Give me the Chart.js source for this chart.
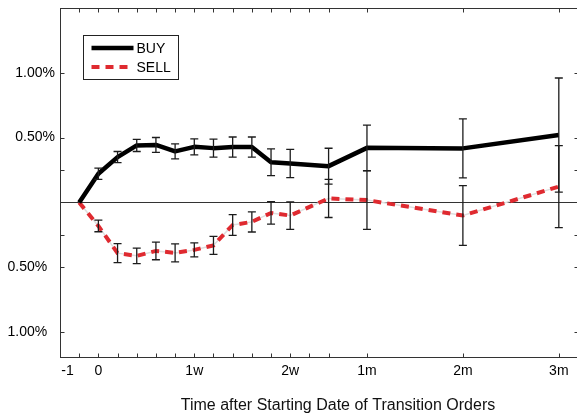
<!DOCTYPE html>
<html>
<head>
<meta charset="utf-8">
<script src="https://cdn.jsdelivr.net/npm/chart.js@4.4.1/dist/chart.umd.min.js"></script>
<style>
  html, body { margin: 0; padding: 0; background: #fff; overflow: hidden; width: 577px; height: 417px; }
  #wrap { position: relative; width: 579px; height: 417px; }
</style>
</head>
<body>
<div id="wrap"><canvas id="c"></canvas></div>
<script>
// Trading-day offsets from the start of the transition (1w = 5, 2w = 10, then 3w, 1m, 2m, 3m)
const steps = [-1, 0, 1, 2, 3, 4, 5, 6, 7, 8, 9, 10, 12, 14, 19, 24];

// Mean cumulative return (%) and error half-widths (%)
const buyMean  = [0, 0.221, 0.350, 0.440, 0.444, 0.394, 0.429, 0.419, 0.427, 0.427, 0.310, 0.300, 0.280, 0.421, 0.417, 0.520];
const buyErr   = [0, 0.043, 0.043, 0.047, 0.057, 0.058, 0.062, 0.070, 0.078, 0.078, 0.103, 0.109, 0.138, 0.176, 0.228, 0.440];
const sellMean = [0, -0.181, -0.391, -0.412, -0.374, -0.389, -0.366, -0.331, -0.174, -0.150, -0.081, -0.101, 0.031, 0.018, -0.101, 0.122];
const sellErr  = [0, 0.045, 0.074, 0.060, 0.068, 0.070, 0.054, 0.070, 0.080, 0.078, 0.087, 0.106, 0.147, 0.225, 0.230, 0.316];

// Axis ticks and labels
const xTickValues  = [-1, 0, 1, 2, 3, 4, 5, 6, 7, 8, 9, 10, 11, 12, 14, 19, 24];
const xLabelValues = [-1, 0, 5, 10, 14, 19, 24];
const xLabelTexts  = ['-1', '0', '1w', '2w', '1m', '2m', '3m'];
const yTickValues  = [1, 0.5, 0.25, 0, -0.25, -0.5, -1];
const yLabelValues = [1, 0.5, -0.5, -1];
const yLabelTexts  = ['1.00%', '0.50%', '0.50%', '1.00%'];

const seriesNames = ['BUY', 'SELL'];
const axisTitle = 'Time after Starting Date of Transition Orders';

const RED = '#df2a30';
const INK = '#1c1c1c';

Chart.defaults.font.family = "'Liberation Sans', Arial, Helvetica, sans-serif";
Chart.defaults.color = '#000';

const toPoints = vals => steps.map((s, i) => ({ x: s, y: vals[i] }));

// Vertical error bars with caps, drawn through the scales
const errorBars = {
  id: 'errorBars',
  afterDatasetsDraw(chart) {
    const { ctx, scales: { x, y } } = chart;
    ctx.save();
    ctx.strokeStyle = INK;
    ctx.lineWidth = 1.3;
    chart.data.datasets.forEach(ds => {
      if (!ds.errors) return;
      ds.data.forEach((p, i) => {
        const e = ds.errors[i];
        if (!e) return;
        const px = x.getPixelForValue(p.x);
        const y1 = y.getPixelForValue(p.y + e);
        const y2 = y.getPixelForValue(p.y - e);
        ctx.beginPath();
        ctx.moveTo(px, y1); ctx.lineTo(px, y2);
        ctx.moveTo(px - 4, y1); ctx.lineTo(px + 4, y1);
        ctx.moveTo(px - 4, y2); ctx.lineTo(px + 4, y2);
        ctx.stroke();
      });
    });
    ctx.restore();
  }
};

// Zero line, boxed frame with inward ticks, legend box and axis caption
const frame = {
  id: 'frame',
  beforeDatasetsDraw(chart) {
    const { ctx, chartArea: a, scales: { y } } = chart;
    const y0 = Math.round(y.getPixelForValue(0)) + 0.5;
    ctx.save();
    ctx.strokeStyle = '#333';
    ctx.lineWidth = 1;
    ctx.beginPath();
    ctx.moveTo(a.left, y0); ctx.lineTo(a.right, y0);
    ctx.stroke();
    ctx.restore();
  },
  afterDraw(chart, args, opts) {
    const { ctx, chartArea: a, scales: { x, y } } = chart;
    const L = Math.round(a.left) + 0.5, R = Math.round(a.right) + 0.5;
    const T = Math.round(a.top) + 0.5, B = Math.round(a.bottom) - 0.5;
    ctx.save();
    ctx.strokeStyle = '#333';
    ctx.lineWidth = 1;
    ctx.strokeRect(L, T, R - L, B - T);
    ctx.beginPath();
    xTickValues.forEach(v => {
      const px = Math.round(x.getPixelForValue(v)) + 0.5;
      ctx.moveTo(px, B); ctx.lineTo(px, B - 4);
      ctx.moveTo(px, T); ctx.lineTo(px, T + 4);
    });
    yTickValues.forEach(v => {
      const py = Math.round(y.getPixelForValue(v)) + 0.5;
      ctx.moveTo(L, py); ctx.lineTo(L + 4, py);
      ctx.moveTo(R, py); ctx.lineTo(R - 4, py);
    });
    ctx.stroke();

    // legend box
    const bx = a.left + 23.5, by = a.top + 27.5, bw = 95, bh = 44;
    ctx.fillStyle = '#fff';
    ctx.fillRect(bx, by, bw, bh);
    ctx.strokeStyle = '#222';
    ctx.strokeRect(bx, by, bw, bh);
    ctx.font = "14px 'Liberation Sans', Arial, sans-serif";
    ctx.textBaseline = 'middle';
    ctx.textAlign = 'left';
    chart.data.datasets.filter(ds => ds.label).forEach((ds, i) => {
      const ly = by + 12.5 + i * 19;
      ctx.save();
      ctx.strokeStyle = ds.borderColor;
      ctx.lineWidth = ds.borderWidth;
      ctx.setLineDash(ds.borderDash || []);
      ctx.beginPath();
      ctx.moveTo(bx + 8, ly); ctx.lineTo(bx + 50, ly);
      ctx.stroke();
      ctx.restore();
      ctx.fillStyle = '#000';
      ctx.fillText(ds.label, bx + 53, ly + 1);
    });

    // axis caption
    ctx.font = "16px 'Liberation Sans', Arial, sans-serif";
    ctx.fillStyle = '#111';
    ctx.textAlign = 'center';
    ctx.fillText(opts.text, (a.left + a.right) / 2 + opts.shift, opts.y);
    ctx.restore();
  }
};

new Chart(document.getElementById('c'), {
  type: 'line',
  data: {
    datasets: [
      {
        label: seriesNames[0],
        data: toPoints(buyMean),
        errors: buyErr,
        borderColor: '#000',
        borderWidth: 4.5,
        borderJoinStyle: 'round',
        pointRadius: 0,
        tension: 0
      },
      {
        label: seriesNames[1],
        data: toPoints(sellMean),
        errors: sellErr,
        borderColor: RED,
        borderWidth: 4,
        borderDash: [8, 6],
        pointRadius: 0,
        tension: 0
      },
      {
        // thin pale trace running beneath the dashed SELL line
        data: toPoints(sellMean),
        borderColor: '#dedede',
        borderWidth: 1.5,
        pointRadius: 0,
        tension: 0
      }
    ]
  },
  options: {
    responsive: true,
    maintainAspectRatio: false,
    animation: false,
    events: [],
    layout: { padding: { top: 8, right: 1, left: 0, bottom: 0 } },
    scales: {
      x: {
        type: 'linear',
        min: -2,
        max: 25,
        grid: { display: false, drawTicks: false },
        border: { display: false },
        afterBuildTicks: s => { s.ticks = xTickValues.map(v => ({ value: v })); },
        afterFit: s => { s.height = 59; s.paddingLeft = 0; s.paddingRight = 0; },
        ticks: {
          autoSkip: false,
          maxRotation: 0,
          padding: 5,
          color: '#000',
          font: { size: 14 },
          callback: v => {
            const i = xLabelValues.indexOf(v);
            if (i < 0) return '';
            return v < 0 ? xLabelTexts[i] + '      ' : xLabelTexts[i];
          }
        }
      },
      y: {
        min: -1.2,
        max: 1.5,
        grid: { display: false, drawTicks: false },
        border: { display: false },
        afterBuildTicks: s => { s.ticks = yTickValues.map(v => ({ value: v })); },
        afterFit: s => { s.width = 60; s.paddingTop = 0; s.paddingBottom = 0; },
        ticks: {
          padding: 5,
          color: '#000',
          font: { size: 14 },
          callback: v => {
            const i = yLabelValues.indexOf(v);
            if (i < 0) return '';
            return v < 0 ? yLabelTexts[i] + '  ' : yLabelTexts[i];
          }
        }
      }
    },
    plugins: {
      legend: { display: false },
      tooltip: { enabled: false },
      frame: { text: axisTitle, shift: 19, y: 406 }
    }
  },
  plugins: [errorBars, frame]
});
</script>
</body>
</html>
